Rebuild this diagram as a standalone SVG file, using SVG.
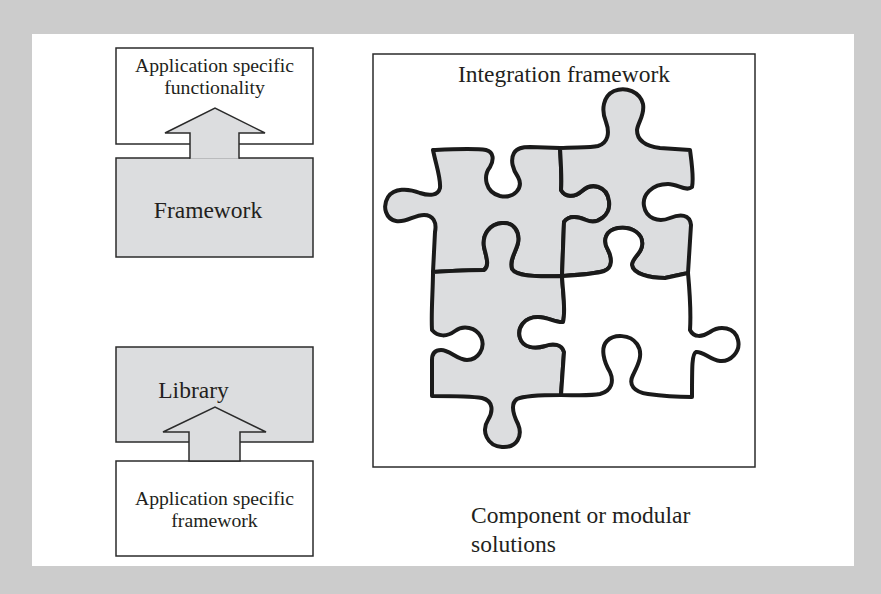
<svg xmlns="http://www.w3.org/2000/svg" width="881" height="594" viewBox="0 0 881 594">
  <style>
    .box { stroke: #2b2b2b; stroke-width: 1.5; }
    .light { fill: #ffffff; }
    .shade { fill: #dcdddf; }
    .label { font-family: "Liberation Serif", "Times New Roman", serif; fill: #231f20; }
    .small { font-size: 19.7px; }
    .large { font-size: 23.5px; }
    .piece { stroke: #1a1a1a; stroke-width: 4; stroke-linejoin: round; stroke-linecap: round; }
  </style>

  <!-- page background and white panel -->
  <rect x="0" y="0" width="881" height="594" fill="#cccccc"/>
  <rect x="32" y="34" width="822" height="532" fill="#ffffff"/>

  <!-- framework approach: application code sits on top of the framework -->
  <g id="app-functionality">
    <rect class="box light" x="116" y="48" width="197" height="96"/>
    <text class="label small" x="214.5" y="72" text-anchor="middle">Application specific</text>
    <text class="label small" x="214.5" y="94" text-anchor="middle">functionality</text>
  </g>
  <g id="framework">
    <rect class="box shade" x="116" y="158" width="197" height="99"/>
    <text class="label large" x="208" y="218" text-anchor="middle">Framework</text>
  </g>

  <!-- library approach: application framework calls the library -->
  <g id="library">
    <rect class="box shade" x="116" y="347" width="197" height="95"/>
    <text class="label large" x="193.5" y="398" text-anchor="middle">Library</text>
  </g>
  <g id="app-framework">
    <rect class="box light" x="116" y="461" width="197" height="95"/>
    <text class="label small" x="214.5" y="505" text-anchor="middle">Application specific</text>
    <text class="label small" x="214.5" y="527" text-anchor="middle">framework</text>
  </g>

  <g id="connectors">
    <!-- framework pushes up into the application layer -->
    <path class="box shade" d="M190,158.75 V133 H165 L215,108 L265,133 H239 V158.75"/>
    <!-- application framework pushes up into the library -->
    <path class="box shade" d="M189,461 V432 H163 L215,407 L266,432 H240 V461 Z"/>
  </g>

  <!-- component / modular approach -->
  <g id="integration-framework">
    <rect class="box light" x="373" y="54" width="382" height="413"/>
    <text class="label large" x="564" y="82" text-anchor="middle">Integration framework</text>
  </g>

  <g id="puzzle">
    <g id="piece-top-left">
      <path class="piece shade" d="M433,150
        C455,149 475,148 486,150 C494,152 494,160 490,167 C483,176 485,192 500,196 C514,199 524,188 518,177 C513,170 510,160 514,153 C517,148 522,147 530,147 L560,148
        C561,165 562,180 561,190 C565,197 574,198 582,191 C592,182 607,186 609,201 C611,215 598,225 586,220 C577,216 569,215 564,222 L562,276
        C535,277 516,276 512,269 C509,260 516,252 518,243 C520,232 514,222 502,223 C490,224 482,234 484,247 C486,256 490,266 484,270 C470,270 450,271 433,272
        L435,232 C437,222 433,215 424,215 C414,215 406,223 396,221 C386,219 382,207 388,197 C394,188 408,188 420,193 C429,196 438,196 440,188 C441,178 436,165 433,150 Z"/>
    </g>
    <g id="piece-top-right">
      <path class="piece shade" d="M560,148
        C575,147 590,148 598,146 C608,143 610,133 606,122 C601,110 603,96 614,91 C626,86 640,92 643,104 C645,115 638,122 637,130 C637,140 645,146 660,148 L690,150
        C692,165 694,178 692,187 C686,192 678,184 668,184 C652,184 642,195 644,206 C646,218 658,223 670,218 C680,214 690,214 691,225 L688,273
        L665,278 C650,278 633,274 632,265 C632,258 641,254 642,246 C644,234 632,226 618,228 C606,230 602,240 608,250 C612,258 613,268 604,271 C595,274 578,275 562,276
        L564,222 C569,215 577,216 586,220 C598,225 611,215 609,201 C607,186 592,182 582,191 C574,198 565,197 561,190 C562,180 561,165 560,148 Z"/>
    </g>
    <g id="piece-bottom-left">
      <path class="piece shade" d="M433,272
        C450,271 470,270 484,270 C490,266 486,256 484,247 C482,234 490,224 502,223 C514,222 520,232 518,243 C516,252 509,260 512,269 C516,276 535,277 562,276
        C563,295 566,310 563,322 C556,323 548,317 538,317 C524,317 517,328 520,338 C523,348 535,349 545,346 C553,343 562,344 564,352 L561,395
        C545,395 525,395 517,399 C510,404 513,414 518,424 C523,436 517,448 502,447 C487,446 481,431 488,420 C493,412 494,401 482,398 C470,396 452,396 432,396
        L432,360 C432,353 435,350 441,350 C450,350 457,360 467,360 C478,360 486,348 481,337 C476,327 463,325 455,331 C447,337 438,337 432,330 C431,312 433,290 433,272 Z"/>
    </g>
    <g id="piece-bottom-right">
      <path class="piece light" d="M562,276
        C578,275 595,274 604,271 C613,268 612,258 608,250 C602,240 606,230 618,228 C632,226 644,234 642,246 C641,254 632,258 632,265 C633,274 650,278 665,278 L688,273
        C690,295 691,315 690,330 C694,338 702,337 710,332 C720,325 735,327 738,340 C741,352 730,362 720,361 C710,360 703,351 696,352 C692,354 692,365 692,397
        C680,397 662,396 648,394 C634,392 628,385 633,375 C638,365 644,354 637,344 C630,334 614,334 607,341 C600,348 604,362 610,372 C614,381 612,391 600,394 C590,396 575,395 561,395
        L564,352 C562,344 553,343 545,346 C535,349 523,348 520,338 C517,328 524,317 538,317 C548,317 556,323 563,322 C566,310 563,295 562,276 Z"/>
    </g>
  </g>

  <g id="caption">
    <text class="label large" x="471" y="523">Component or modular</text>
    <text class="label large" x="471" y="552">solutions</text>
  </g>
</svg>
